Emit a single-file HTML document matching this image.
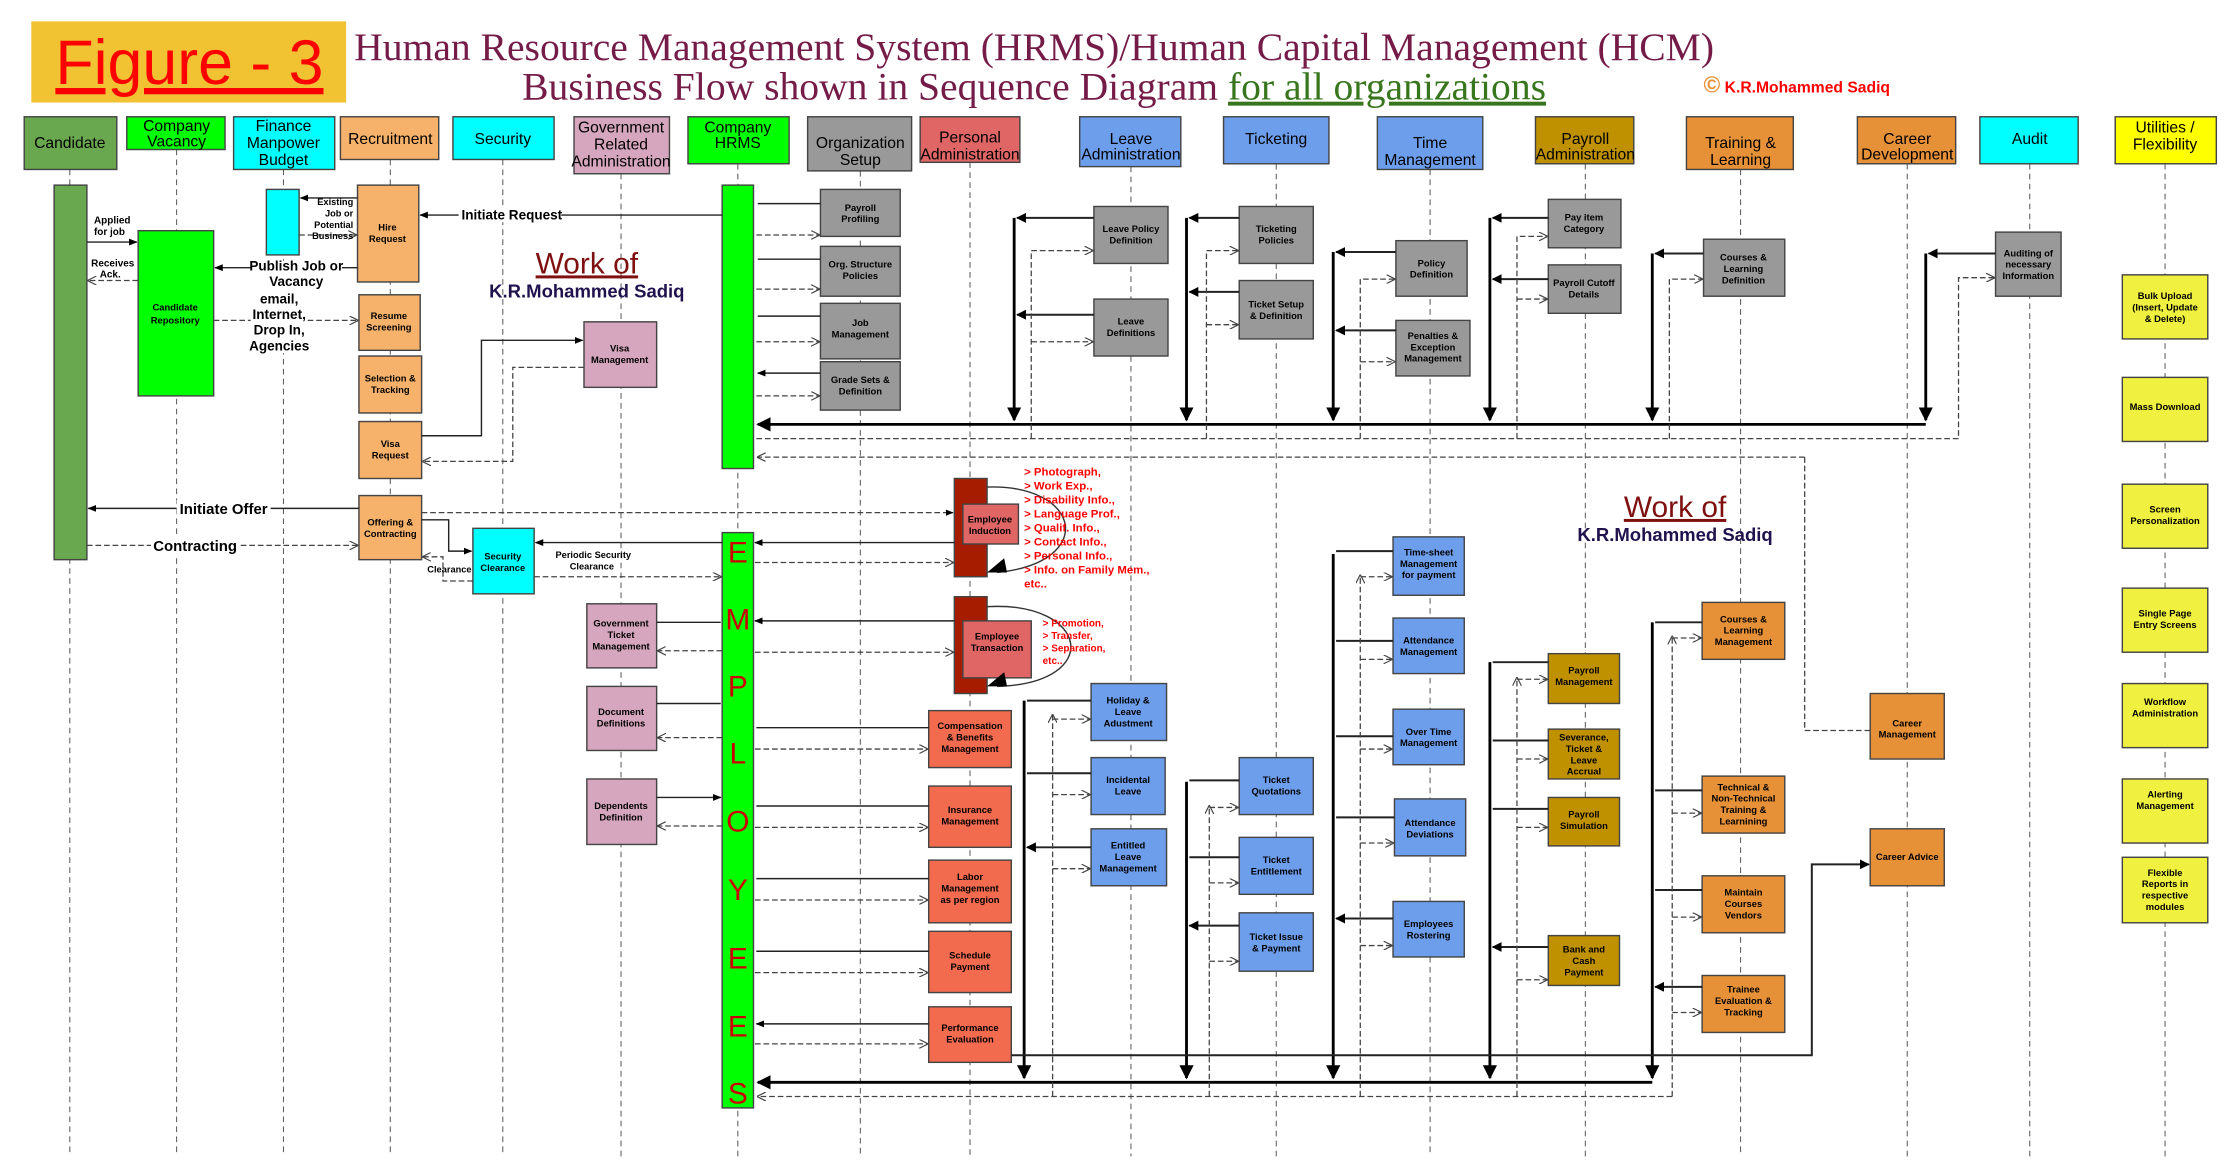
<!DOCTYPE html>
<html><head><meta charset="utf-8"><style>
html,body{margin:0;padding:0;background:#fff}
svg{display:block}
.b{font-family:"Liberation Sans",sans-serif;font-size:6.6px;font-weight:bold;text-anchor:middle;fill:#000}
.h{font-family:"Liberation Sans",sans-serif;font-size:11px;text-anchor:middle;fill:#000}
.l{font-family:"Liberation Sans",sans-serif;font-size:7px;font-weight:bold;fill:#000}
.r{font-family:"Liberation Sans",sans-serif;font-size:8px;font-weight:bold;fill:#f00}
.ll{stroke:#555;stroke-width:.7;stroke-dasharray:4 3;fill:none}
.s{stroke:#222;stroke-width:1;fill:none}
.t{stroke:#000;stroke-width:2;fill:none}
.d{stroke:#444;stroke-width:.9;stroke-dasharray:4 2;fill:none}
.bx{stroke:#444;stroke-width:1}
</style></head><body>
<svg width="2232" height="1172" viewBox="0 0 1567 823" preserveAspectRatio="none" xmlns="http://www.w3.org/2000/svg">
<defs>
<marker id="f" viewBox="0 0 10 10" refX="9" refY="5" markerWidth="6" markerHeight="6" orient="auto-start-reverse"><path d="M0,1L10,5L0,9z" fill="#000"/></marker>
<marker id="F" viewBox="0 0 10 10" refX="9" refY="5" markerWidth="5" markerHeight="5" orient="auto-start-reverse"><path d="M0,0L10,5L0,10z" fill="#000"/></marker>
<marker id="o" viewBox="0 0 10 10" refX="9" refY="5" markerWidth="7" markerHeight="7" orient="auto-start-reverse"><path d="M0,0L10,5L0,10" fill="none" stroke="#444" stroke-width="1.3"/></marker>
</defs>
<rect width="1567" height="823" fill="#fff"/>
<!-- Title -->
<rect x="22" y="15" width="221" height="57" fill="#f1c232"/>
<text x="133" y="59" font-family="Liberation Sans,sans-serif" font-size="44" fill="#f00" text-anchor="middle" text-decoration="underline">Figure - 3</text>
<text x="726" y="42" font-family="Liberation Serif,serif" font-size="27.8" fill="#741b47" text-anchor="middle">Human Resource Management System (HRMS)/Human Capital Management (HCM)</text>
<text x="726" y="70" font-family="Liberation Serif,serif" font-size="27.8" fill="#741b47" text-anchor="middle">Business Flow shown in Sequence Diagram <tspan fill="#38761d" text-decoration="underline">for all organizations</tspan></text>
<text x="1196" y="65" font-family="Liberation Sans,sans-serif" font-size="11" font-weight="bold" fill="#f00"><tspan font-size="16" fill="#e69138">©</tspan> K.R.Mohammed Sadiq</text>
<!-- lifelines -->
<g class="ll">
<path d="M49 119V812M124 105V812M199 119V812M274 112V812M353 112V812M436 122V812M518 115V812M604 120V812M681 114V812M794 117V812M896 115V812M1004 119V812M1113 115V812M1222 119V812M1339 115V812M1425 115V812M1520 115V812"/>
</g>
<!-- headers -->
<g class="bx">
<rect x="17" y="82" width="65" height="37" fill="#6aa84f"/>
<rect x="89" y="82" width="69" height="23" fill="#00ff00"/>
<rect x="164" y="82" width="71" height="37" fill="#00ffff"/>
<rect x="239" y="82" width="69" height="30" fill="#f6b26b"/>
<rect x="318" y="82" width="71" height="30" fill="#00ffff"/>
<rect x="403" y="82" width="67" height="40" fill="#d5a6bd"/>
<rect x="483" y="82" width="71" height="33" fill="#00ff00"/>
<rect x="567" y="82" width="73" height="38" fill="#999"/>
<rect x="646" y="82" width="70" height="32" fill="#e06666"/>
<rect x="758" y="82" width="71" height="35" fill="#6d9eeb"/>
<rect x="859" y="82" width="74" height="33" fill="#6d9eeb"/>
<rect x="967" y="82" width="74" height="37" fill="#6d9eeb"/>
<rect x="1078" y="82" width="69" height="33" fill="#bf9000"/>
<rect x="1184" y="82" width="75" height="37" fill="#e69138"/>
<rect x="1304" y="82" width="69" height="33" fill="#e69138"/>
<rect x="1390" y="82" width="69" height="33" fill="#00ffff"/>
<rect x="1485" y="82" width="71" height="33" fill="#ffff00"/>
</g>
<g class="h">
<text x="49" y="104">Candidate</text>
<text x="124" y="92">Company<tspan x="124" dy="11">Vacancy</tspan></text>
<text x="199" y="92">Finance<tspan x="199" dy="12">Manpower</tspan><tspan x="199" dy="12">Budget</tspan></text>
<text x="274" y="101">Recruitment</text>
<text x="353" y="101">Security</text>
<text x="436" y="93">Government<tspan x="436" dy="12">Related</tspan><tspan x="436" dy="12">Administration</tspan></text>
<text x="518" y="93">Company<tspan x="518" dy="11">HRMS</tspan></text>
<text x="604" y="104">Organization<tspan x="604" dy="12">Setup</tspan></text>
<text x="681" y="100">Personal<tspan x="681" dy="12">Administration</tspan></text>
<text x="794" y="101">Leave<tspan x="794" dy="11">Administration</tspan></text>
<text x="896" y="101">Ticketing</text>
<text x="1004" y="104">Time<tspan x="1004" dy="12">Management</tspan></text>
<text x="1113" y="101">Payroll<tspan x="1113" dy="11">Administration</tspan></text>
<text x="1222" y="104">Training &amp;<tspan x="1222" dy="12">Learning</tspan></text>
<text x="1339" y="101">Career<tspan x="1339" dy="11">Development</tspan></text>
<text x="1425" y="101">Audit</text>
<text x="1520" y="93">Utilities /<tspan x="1520" dy="12">Flexibility</tspan></text>
</g>
<!-- activation & boxes -->
<g class="bx">
<rect x="38" y="130" width="23" height="263" fill="#6aa84f"/>
<rect x="97" y="162" width="53" height="116" fill="#00ff00"/>
<rect x="187" y="133" width="23" height="46" fill="#00ffff"/>
<rect x="251" y="130" width="43" height="68" fill="#f6b26b"/>
<rect x="252" y="207" width="43" height="39" fill="#f6b26b"/>
<rect x="252" y="250" width="44" height="40" fill="#f6b26b"/>
<rect x="252" y="296" width="44" height="40" fill="#f6b26b"/>
<rect x="252" y="348" width="44" height="45" fill="#f6b26b"/>
<rect x="332" y="371" width="43" height="46" fill="#00ffff"/>
<rect x="410" y="226" width="51" height="46" fill="#d5a6bd"/>
<rect x="412" y="424" width="49" height="45" fill="#d5a6bd"/>
<rect x="412" y="482" width="49" height="45" fill="#d5a6bd"/>
<rect x="412" y="547" width="49" height="46" fill="#d5a6bd"/>
<rect x="507" y="130" width="22" height="199" fill="#00ff00"/>
<rect x="507" y="374" width="22" height="404" fill="#00ff00"/>
<g fill="#999"><rect x="576" y="133" width="56" height="33"/><rect x="576" y="173" width="56" height="35"/><rect x="576" y="213" width="56" height="39"/><rect x="576" y="254" width="56" height="34"/>
<rect x="768" y="145" width="52" height="40"/><rect x="768" y="210" width="52" height="40"/>
<rect x="870" y="145" width="52" height="40"/><rect x="870" y="197" width="52" height="41"/>
<rect x="980" y="169" width="50" height="39"/><rect x="980" y="225" width="52" height="39"/>
<rect x="1087" y="140" width="51" height="34"/><rect x="1087" y="186" width="51" height="34"/>
<rect x="1196" y="168" width="57" height="40"/><rect x="1401" y="163" width="46" height="45"/></g>
<rect x="670" y="336" width="23" height="69" fill="#a61c00"/>
<rect x="676" y="354" width="39" height="28" fill="#e06666"/>
<rect x="670" y="419" width="23" height="68" fill="#a61c00"/>
<rect x="676" y="436" width="48" height="40" fill="#e06666"/>
<g fill="#f26b4f"><rect x="652" y="499" width="58" height="40"/><rect x="652" y="552" width="58" height="43"/><rect x="652" y="604" width="58" height="44"/><rect x="652" y="654" width="58" height="43"/><rect x="652" y="707" width="58" height="39"/></g>
<g fill="#6d9eeb"><rect x="766" y="480" width="53" height="40"/><rect x="766" y="532" width="52" height="40"/><rect x="766" y="582" width="53" height="40"/>
<rect x="870" y="532" width="52" height="40"/><rect x="870" y="588" width="52" height="40"/><rect x="870" y="641" width="52" height="41"/>
<rect x="978" y="377" width="50" height="41"/><rect x="978" y="434" width="50" height="39"/><rect x="978" y="498" width="50" height="39"/><rect x="979" y="561" width="50" height="40"/><rect x="978" y="633" width="50" height="39"/></g>
<g fill="#bf9000"><rect x="1087" y="459" width="50" height="35"/><rect x="1087" y="512" width="50" height="35"/><rect x="1087" y="560" width="50" height="34"/><rect x="1087" y="657" width="50" height="35"/></g>
<g fill="#e69138"><rect x="1195" y="423" width="58" height="40"/><rect x="1195" y="545" width="58" height="40"/><rect x="1195" y="615" width="58" height="40"/><rect x="1195" y="685" width="58" height="40"/>
<rect x="1313" y="487" width="52" height="46"/><rect x="1313" y="582" width="52" height="40"/></g>
<g fill="#f0f040"><rect x="1490" y="193" width="60" height="45"/><rect x="1490" y="265" width="60" height="45"/><rect x="1490" y="340" width="60" height="45"/><rect x="1490" y="413" width="60" height="45"/><rect x="1490" y="480" width="60" height="45"/><rect x="1490" y="547" width="60" height="45"/><rect x="1490" y="602" width="60" height="46"/></g>
</g>
<!-- EMPLOYEES letters -->
<g font-family="Liberation Sans,sans-serif" font-size="21" fill="#c00" text-anchor="middle">
<text x="518" y="395">E</text><text x="518" y="442">M</text><text x="518" y="489">P</text><text x="518" y="536">L</text><text x="518" y="584">O</text><text x="518" y="632">Y</text><text x="518" y="680">E</text><text x="518" y="728">E</text><text x="518" y="775">S</text>
</g>
<!-- box labels -->
<g class="b">
<text x="123" y="218">Candidate<tspan x="123" dy="9">Repository</tspan></text>
<text x="272" y="162">Hire<tspan x="272" dy="8">Request</tspan></text>
<text x="273" y="224">Resume<tspan x="273" dy="8">Screening</tspan></text>
<text x="274" y="268">Selection &amp;<tspan x="274" dy="8">Tracking</tspan></text>
<text x="274" y="314">Visa<tspan x="274" dy="8">Request</tspan></text>
<text x="274" y="369">Offering &amp;<tspan x="274" dy="8">Contracting</tspan></text>
<text x="353" y="393">Security<tspan x="353" dy="8">Clearance</tspan></text>
<text x="435" y="247">Visa<tspan x="435" dy="8">Management</tspan></text>
<text x="436" y="440">Government<tspan x="436" dy="8">Ticket</tspan><tspan x="436" dy="8">Management</tspan></text>
<text x="436" y="502">Document<tspan x="436" dy="8">Definitions</tspan></text>
<text x="436" y="568">Dependents<tspan x="436" dy="8">Definition</tspan></text>
<text x="604" y="148">Payroll<tspan x="604" dy="8">Profiling</tspan></text>
<text x="604" y="188">Org. Structure<tspan x="604" dy="8">Policies</tspan></text>
<text x="604" y="229">Job<tspan x="604" dy="8">Management</tspan></text>
<text x="604" y="269">Grade Sets &amp;<tspan x="604" dy="8">Definition</tspan></text>
<text x="695" y="367">Employee<tspan x="695" dy="8">Induction</tspan></text>
<text x="700" y="449">Employee<tspan x="700" dy="8">Transaction</tspan></text>
<text x="681" y="512">Compensation<tspan x="681" dy="8">&amp; Benefits</tspan><tspan x="681" dy="8">Management</tspan></text>
<text x="681" y="571">Insurance<tspan x="681" dy="8">Management</tspan></text>
<text x="681" y="618">Labor<tspan x="681" dy="8">Management</tspan><tspan x="681" dy="8">as per region</tspan></text>
<text x="681" y="673">Schedule<tspan x="681" dy="8">Payment</tspan></text>
<text x="681" y="724">Performance<tspan x="681" dy="8">Evaluation</tspan></text>
<text x="794" y="163">Leave Policy<tspan x="794" dy="8">Definition</tspan></text>
<text x="794" y="228">Leave<tspan x="794" dy="8">Definitions</tspan></text>
<text x="792" y="494">Holiday &amp;<tspan x="792" dy="8">Leave</tspan><tspan x="792" dy="8">Adustment</tspan></text>
<text x="792" y="550">Incidental<tspan x="792" dy="8">Leave</tspan></text>
<text x="792" y="596">Entitled<tspan x="792" dy="8">Leave</tspan><tspan x="792" dy="8">Management</tspan></text>
<text x="896" y="163">Ticketing<tspan x="896" dy="8">Policies</tspan></text>
<text x="896" y="216">Ticket Setup<tspan x="896" dy="8">&amp; Definition</tspan></text>
<text x="896" y="550">Ticket<tspan x="896" dy="8">Quotations</tspan></text>
<text x="896" y="606">Ticket<tspan x="896" dy="8">Entitlement</tspan></text>
<text x="896" y="660">Ticket Issue<tspan x="896" dy="8">&amp; Payment</tspan></text>
<text x="1005" y="187">Policy<tspan x="1005" dy="8">Definition</tspan></text>
<text x="1006" y="238">Penalties &amp;<tspan x="1006" dy="8">Exception</tspan><tspan x="1006" dy="8">Management</tspan></text>
<text x="1003" y="390">Time-sheet<tspan x="1003" dy="8">Management</tspan><tspan x="1003" dy="8">for payment</tspan></text>
<text x="1003" y="452">Attendance<tspan x="1003" dy="8">Management</tspan></text>
<text x="1003" y="516">Over Time<tspan x="1003" dy="8">Management</tspan></text>
<text x="1004" y="580">Attendance<tspan x="1004" dy="8">Deviations</tspan></text>
<text x="1003" y="651">Employees<tspan x="1003" dy="8">Rostering</tspan></text>
<text x="1112" y="155">Pay item<tspan x="1112" dy="8">Category</tspan></text>
<text x="1112" y="201">Payroll Cutoff<tspan x="1112" dy="8">Details</tspan></text>
<text x="1112" y="473">Payroll<tspan x="1112" dy="8">Management</tspan></text>
<text x="1112" y="520">Severance,<tspan x="1112" dy="8">Ticket &amp;</tspan><tspan x="1112" dy="8">Leave</tspan><tspan x="1112" dy="8">Accrual</tspan></text>
<text x="1112" y="574">Payroll<tspan x="1112" dy="8">Simulation</tspan></text>
<text x="1112" y="669">Bank and<tspan x="1112" dy="8">Cash</tspan><tspan x="1112" dy="8">Payment</tspan></text>
<text x="1224" y="183">Courses &amp;<tspan x="1224" dy="8">Learning</tspan><tspan x="1224" dy="8">Definition</tspan></text>
<text x="1224" y="437">Courses &amp;<tspan x="1224" dy="8">Learning</tspan><tspan x="1224" dy="8">Management</tspan></text>
<text x="1224" y="555">Technical &amp;<tspan x="1224" dy="8">Non-Technical</tspan><tspan x="1224" dy="8">Training &amp;</tspan><tspan x="1224" dy="8">Learnining</tspan></text>
<text x="1224" y="629">Maintain<tspan x="1224" dy="8">Courses</tspan><tspan x="1224" dy="8">Vendors</tspan></text>
<text x="1224" y="697">Trainee<tspan x="1224" dy="8">Evaluation &amp;</tspan><tspan x="1224" dy="8">Tracking</tspan></text>
<text x="1339" y="510">Career<tspan x="1339" dy="8">Management</tspan></text>
<text x="1339" y="604">Career Advice</text>
<text x="1424" y="180">Auditing of<tspan x="1424" dy="8">necessary</tspan><tspan x="1424" dy="8">Information</tspan></text>
<text x="1520" y="210">Bulk Upload<tspan x="1520" dy="8">(Insert, Update</tspan><tspan x="1520" dy="8">&amp; Delete)</tspan></text>
<text x="1520" y="288">Mass Download</text>
<text x="1520" y="360">Screen<tspan x="1520" dy="8">Personalization</tspan></text>
<text x="1520" y="433">Single Page<tspan x="1520" dy="8">Entry Screens</tspan></text>
<text x="1520" y="495">Workflow<tspan x="1520" dy="8">Administration</tspan></text>
<text x="1520" y="560">Alerting<tspan x="1520" dy="8">Management</tspan></text>
<text x="1520" y="615">Flexible<tspan x="1520" dy="8">Reports in</tspan><tspan x="1520" dy="8">respective</tspan><tspan x="1520" dy="8">modules</tspan></text>
</g>
<!-- left connectors -->
<path class="s" d="M61 170H96" marker-end="url(#f)"/>
<path class="d" d="M97 197H62" marker-end="url(#o)"/>
<path class="s" d="M251 139H211" marker-end="url(#f)"/>
<path class="d" d="M210 165H250" marker-end="url(#o)"/>
<path class="s" d="M251 188H151" marker-end="url(#f)"/>
<path class="d" d="M150 225H251" marker-end="url(#o)"/>
<path class="s" d="M507 151H295" marker-end="url(#f)"/>
<path class="s" d="M296 306H338V239H409" marker-end="url(#f)"/>
<path class="d" d="M410 258H360V324H297" marker-end="url(#o)"/>
<path class="s" d="M252 357H62" marker-end="url(#f)"/>
<path class="d" d="M61 383H251" marker-end="url(#o)"/>
<path class="s" d="M296 365H315V387H331" marker-end="url(#f)"/>
<path class="d" d="M332 408H311V391H297" marker-end="url(#o)"/>
<path class="s" d="M507 381H376" marker-end="url(#f)"/>
<path class="d" d="M375 405H506" marker-end="url(#o)"/>
<rect x="124" y="351" width="66" height="12" fill="#fff"/>
<rect x="106" y="377" width="62" height="12" fill="#fff"/>
<rect x="176" y="183" width="64" height="22" fill="#fff"/>
<rect x="176" y="204" width="40" height="44" fill="#fff"/>
<rect x="322" y="146" width="72" height="10" fill="#fff"/>
<text class="l" x="66" y="157">Applied<tspan x="66" dy="8">for job</tspan></text>
<text class="l" x="64" y="187">Receives<tspan x="70" dy="8">Ack.</tspan></text>
<text class="l" x="248" y="144" text-anchor="end" style="font-size:6.5px">Existing<tspan x="248" dy="8">Job or</tspan><tspan x="248" dy="8">Potential</tspan><tspan x="248" dy="8">Business</tspan></text>
<text class="l" x="208" y="190" style="font-size:9.5px;text-anchor:middle">Publish Job or<tspan x="208" dy="11">Vacancy</tspan></text>
<text class="l" x="196" y="213" style="font-size:9.5px;text-anchor:middle">email,<tspan x="196" dy="11">Internet,</tspan><tspan x="196" dy="11">Drop In,</tspan><tspan x="196" dy="11">Agencies</tspan></text>
<text class="l" x="324" y="154" style="font-size:9.5px">Initiate Request</text>
<text class="l" x="157" y="361" style="font-size:10.5px;text-anchor:middle">Initiate Offer</text>
<text class="l" x="137" y="387" style="font-size:10.5px;text-anchor:middle">Contracting</text>
<text class="l" x="390" y="392" style="font-size:6.5px">Periodic Security<tspan x="400" dy="8">Clearance</tspan></text>
<text class="l" x="300" y="402" style="font-size:6.5px">Clearance</text>
<!-- Work of -->
<text x="412" y="192" font-family="Liberation Sans,sans-serif" font-size="21" fill="#7f1010" text-anchor="middle" text-decoration="underline">Work of</text>
<text x="412" y="209" font-family="Liberation Sans,sans-serif" font-size="13" font-weight="bold" fill="#20124d" text-anchor="middle">K.R.Mohammed Sadiq</text>
<text x="1176" y="363" font-family="Liberation Sans,sans-serif" font-size="21" fill="#7f1010" text-anchor="middle" text-decoration="underline">Work of</text>
<text x="1176" y="380" font-family="Liberation Sans,sans-serif" font-size="13" font-weight="bold" fill="#20124d" text-anchor="middle">K.R.Mohammed Sadiq</text>
<!-- HRMS <-> org setup -->
<g>
<path class="s" d="M576 143H532M576 182H532M576 222H532M576 262H532" marker-end="url(#f)"/>
<path class="d" d="M531 165H575" marker-end="url(#o)"/><path class="d" d="M531 203H575" marker-end="url(#o)"/><path class="d" d="M531 240H575" marker-end="url(#o)"/><path class="d" d="M531 278H575" marker-end="url(#o)"/>
</g>
<!-- upper setup bus -->
<path class="t" d="M1352 298H532" marker-end="url(#F)"/>
<g class="t">
<path d="M712 153V295" marker-end="url(#F)"/><path d="M833 153V295" marker-end="url(#F)"/><path d="M936 177V295" marker-end="url(#F)"/><path d="M1046 153V295" marker-end="url(#F)"/><path d="M1160 178V295" marker-end="url(#F)"/><path d="M1352 178V295" marker-end="url(#F)"/>
</g>
<g class="s" style="stroke-width:1.4">
<path d="M768 153H714" marker-end="url(#F)"/><path d="M768 221H714" marker-end="url(#F)"/>
<path d="M870 153H835" marker-end="url(#F)"/><path d="M870 205H835" marker-end="url(#F)"/>
<path d="M980 177H938" marker-end="url(#F)"/><path d="M980 232H938" marker-end="url(#F)"/>
<path d="M1087 153H1048" marker-end="url(#F)"/><path d="M1087 196H1048" marker-end="url(#F)"/>
<path d="M1196 178H1162" marker-end="url(#F)"/><path d="M1401 178H1354" marker-end="url(#F)"/>
</g>
<path class="d" d="M531 308H1375V195H1400" marker-end="url(#o)"/>
<g class="d">
<path d="M724 308V176H767" marker-end="url(#o)"/><path d="M724 240H767" marker-end="url(#o)"/>
<path d="M847 308V176H869" marker-end="url(#o)"/><path d="M847 228H869" marker-end="url(#o)"/>
<path d="M955 308V196H979" marker-end="url(#o)"/><path d="M955 254H979" marker-end="url(#o)"/>
<path d="M1065 308V166H1086" marker-end="url(#o)"/><path d="M1065 210H1086" marker-end="url(#o)"/>
<path d="M1172 308V196H1195" marker-end="url(#o)"/>
</g>
<path class="d" d="M1267 321H532" marker-end="url(#o)"/>
<path class="d" d="M1267 321V513H1313"/>
<!-- personal admin -->
<path class="d" d="M296 360H669" marker-end="url(#f)"/>
<path class="s" d="M670 381H530" marker-end="url(#f)"/>
<path class="d" d="M530 395H669" marker-end="url(#o)"/>
<path class="s" d="M670 436H530" marker-end="url(#f)"/>
<path class="d" d="M530 458H669" marker-end="url(#o)"/>
<path d="M693 342C760 340 770 395 700 402" fill="none" stroke="#333" stroke-width="1"/>
<path d="M693 426C765 422 775 480 700 482" fill="none" stroke="#333" stroke-width="1"/>
<path d="M707 402l-14 0l12 -10z M707 482l-14 0l12 -10z" fill="#000"/>
<text class="r" x="719" y="334">&gt; Photograph,<tspan x="719" dy="9.8">&gt; Work Exp.,</tspan><tspan x="719" dy="9.8">&gt; Disability Info.,</tspan><tspan x="719" dy="9.8">&gt; Language Prof.,</tspan><tspan x="719" dy="9.8">&gt; Qualif. Info.,</tspan><tspan x="719" dy="9.8">&gt; Contact Info.,</tspan><tspan x="719" dy="9.8">&gt; Personal Info.,</tspan><tspan x="719" dy="9.8">&gt; Info. on Family Mem.,</tspan><tspan x="719" dy="9.8">etc..</tspan></text>
<text class="r" x="732" y="440" style="font-size:7px">&gt; Promotion,<tspan x="732" dy="8.8">&gt; Transfer,</tspan><tspan x="732" dy="8.8">&gt; Separation,</tspan><tspan x="732" dy="8.8">etc..</tspan></text>
<g>
<path class="s" d="M652 511H531M652 566H531M652 617H531M652 668H531M652 719H531" marker-end="url(#f)"/>
<path class="d" d="M530 526H651" marker-end="url(#o)"/><path class="d" d="M530 581H651" marker-end="url(#o)"/><path class="d" d="M530 632H651" marker-end="url(#o)"/><path class="d" d="M530 683H651" marker-end="url(#o)"/><path class="d" d="M530 733H651" marker-end="url(#o)"/>
</g>
<!-- gov boxes -->
<path class="s" d="M461 437H506M461 494H506M461 560H506" marker-end="url(#f)"/>
<path class="d" d="M507 457H462" marker-end="url(#o)"/><path class="d" d="M507 518H462" marker-end="url(#o)"/><path class="d" d="M507 580H462" marker-end="url(#o)"/>
<!-- lower bus -->
<path class="t" d="M1160 760H532" marker-end="url(#F)"/>
<g class="t">
<path d="M719 492V757" marker-end="url(#F)"/><path d="M833 549V757" marker-end="url(#F)"/><path d="M936 389V757" marker-end="url(#F)"/><path d="M1046 465V757" marker-end="url(#F)"/><path d="M1160 437V757" marker-end="url(#F)"/>
</g>
<g class="s" style="stroke-width:1.4">
<path d="M766 492H721M766 543H721M766 595H721" marker-end="url(#F)"/>
<path d="M870 548H835M870 602H835M870 650H835" marker-end="url(#F)"/>
<path d="M978 387H938M978 450H938M978 517H938M979 574H938M978 645H938" marker-end="url(#F)"/>
<path d="M1087 465H1048M1087 520H1048M1087 568H1048M1087 665H1048" marker-end="url(#F)"/>
<path d="M1195 437H1162M1195 555H1162M1195 625H1162M1195 693H1162" marker-end="url(#F)"/>
</g>
<path class="d" d="M1174 770H532" marker-end="url(#o)"/>
<g class="d">
<path d="M739 770V502" marker-end="url(#o)"/><path d="M739 505H765" marker-end="url(#o)"/><path d="M739 558H765" marker-end="url(#o)"/><path d="M739 610H765" marker-end="url(#o)"/>
<path d="M849 770V566" marker-end="url(#o)"/><path d="M849 567H869" marker-end="url(#o)"/><path d="M849 620H869" marker-end="url(#o)"/><path d="M849 675H869" marker-end="url(#o)"/>
<path d="M955 770V404" marker-end="url(#o)"/><path d="M955 405H977" marker-end="url(#o)"/><path d="M955 463H977" marker-end="url(#o)"/><path d="M955 526H977" marker-end="url(#o)"/><path d="M955 592H978" marker-end="url(#o)"/><path d="M955 664H977" marker-end="url(#o)"/>
<path d="M1065 770V476" marker-end="url(#o)"/><path d="M1065 477H1086" marker-end="url(#o)"/><path d="M1065 533H1086" marker-end="url(#o)"/><path d="M1065 581H1086" marker-end="url(#o)"/><path d="M1065 688H1086" marker-end="url(#o)"/>
<path d="M1174 770V447" marker-end="url(#o)"/><path d="M1174 448H1194" marker-end="url(#o)"/><path d="M1174 571H1194" marker-end="url(#o)"/><path d="M1174 644H1194" marker-end="url(#o)"/><path d="M1174 711H1194" marker-end="url(#o)"/>
</g>
<path class="s" style="stroke-width:1.4" d="M710 741H1272V607H1312" marker-end="url(#F)"/>
</svg>
</body></html>
